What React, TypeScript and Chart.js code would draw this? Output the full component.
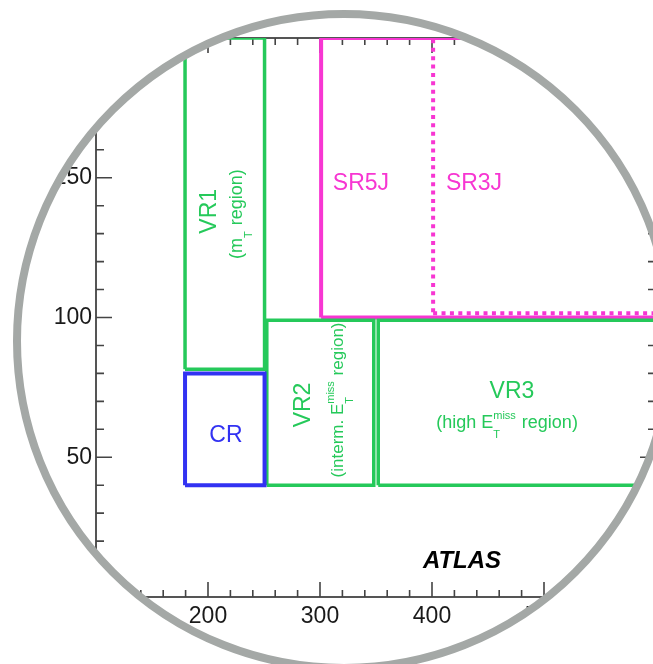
import React, { useEffect, useRef } from "react";
import { Chart, registerables } from "chart.js";
Chart.register(...registerables);

const FONT = '"Liberation Sans", Arial, Helvetica, sans-serif';

// ---- data (axis values) ----
const xTickValues = [100, 200, 300, 400, 500, 600];
const yTickValues = [0, 50, 100, 150, 200];
const xMinorStep = 20;
const yMinorStep = 10;

// region boxes
const regionNames = ["CR", "VR1", "VR2", "VR3", "SR5J", "SR3J"];
const regionXLow = [179.5, 179.5, 252.5, 352, 301, 401];
const regionXHigh = [250.5, 250.5, 348, 600, 600, 600];
const regionYLow = [40, 81.5, 40, 40, 100, 101.5];
const regionYHigh = [80, 200, 99, 99, 200, 200];

// annotation texts
type Run = { t: string; sub?: string; sup?: string };
const labelRuns: Run[][] = [
  [{ t: "CR" }],
  [{ t: "VR1" }],
  [{ t: "(m" }, { t: "", sub: "T" }, { t: " region)" }],
  [{ t: "VR2" }],
  [{ t: "(interm. E" }, { t: "", sub: "T", sup: "miss" }, { t: " region)" }],
  [{ t: "VR3" }],
  [{ t: "(high E" }, { t: "", sub: "T", sup: "miss" }, { t: " region)" }],
  [{ t: "SR5J" }],
  [{ t: "SR3J" }],
  [{ t: "ATLAS" }],
];
const labelX = [216, 201.8, 226, 285.7, 316, 471.4, 467, 336.6, 437.5, 426.8];
const labelY = [57.6, 138, 137, 68.7, 70.5, 73.3, 62.3, 148, 148, 12.9];

// ---- styles ----
const GREEN = "#25c95a";
const MAGENTA = "#f736d2";
const BLUE = "#3232f2";
const regionColor = [BLUE, GREEN, GREEN, GREEN, MAGENTA, MAGENTA];
const regionWidth = [4, 3.5, 3.5, 3.5, 4, 4];
const regionDash: number[][] = [[], [], [], [], [], [4, 4.4]];
const labelColor = [BLUE, GREEN, GREEN, GREEN, GREEN, GREEN, GREEN, MAGENTA, MAGENTA, "#000"];
const labelSize = [23, 23, 18, 23, 17, 23, 18, 23, 23, 24];
const labelRot = [0, -90, -90, -90, -90, 0, 0, 0, 0, 0];
const labelWeight = ["normal", "normal", "normal", "normal", "normal", "normal", "normal", "normal", "normal", "italic bold"];

function drawRich(
  ctx: CanvasRenderingContext2D,
  runs: Run[],
  x: number,
  y: number,
  rotDeg: number,
  size: number,
  color: string,
  weight: string
) {
  const sm = Math.round(size * 0.62);
  const base = `${weight} ${size}px ${FONT}`;
  const small = `${sm}px ${FONT}`;
  const widths: number[] = [];
  let W = 0;
  for (const r of runs) {
    ctx.font = base;
    const w = ctx.measureText(r.t).width;
    ctx.font = small;
    const ws = Math.max(r.sub ? ctx.measureText(r.sub).width : 0, r.sup ? ctx.measureText(r.sup).width : 0);
    const tot = w + ws + (ws > 0 ? 1 : 0);
    widths.push(tot);
    W += tot;
  }
  ctx.save();
  ctx.translate(x, y);
  ctx.rotate((rotDeg * Math.PI) / 180);
  ctx.fillStyle = color;
  ctx.textBaseline = "middle";
  ctx.textAlign = "left";
  let cx = -W / 2;
  runs.forEach((r, i) => {
    ctx.font = base;
    ctx.fillText(r.t, cx, 0);
    const w = ctx.measureText(r.t).width;
    if (r.sub || r.sup) {
      ctx.font = small;
      if (r.sup) ctx.fillText(r.sup, cx + w, -size * 0.38);
      if (r.sub) ctx.fillText(r.sub, cx + w, size * 0.68);
    }
    cx += widths[i];
  });
  ctx.restore();
}

const framePlugin = {
  id: "frameTicks",
  beforeDatasetsDraw(chart: any) {
    const { ctx, chartArea } = chart;
    const { left, right, top, bottom } = chartArea;
    const xs = chart.scales.x;
    const ys = chart.scales.y;
    ctx.save();
    ctx.strokeStyle = "#555";
    ctx.lineWidth = 2;
    ctx.strokeRect(left, top, right - left, bottom - top);
    ctx.lineWidth = 1.6;
    ctx.strokeStyle = "#444";
    for (let v = xs.min; v <= xs.max + 1e-6; v += xMinorStep) {
      const major = xTickValues.includes(v);
      const px = xs.getPixelForValue(v);
      const len = major ? 15 : 7;
      ctx.beginPath();
      ctx.moveTo(px, bottom);
      ctx.lineTo(px, bottom - len);
      ctx.moveTo(px, top);
      ctx.lineTo(px, top + len);
      ctx.stroke();
    }
    for (let v = ys.min; v <= ys.max + 1e-6; v += yMinorStep) {
      const major = yTickValues.includes(v);
      const py = ys.getPixelForValue(v);
      const len = major ? 16 : 8;
      ctx.beginPath();
      ctx.moveTo(left, py);
      ctx.lineTo(left + len, py);
      ctx.moveTo(right, py);
      ctx.lineTo(right - len, py);
      ctx.stroke();
    }
    ctx.restore();
  },
  afterDatasetsDraw(chart: any) {
    const { ctx } = chart;
    const xs = chart.scales.x;
    const ys = chart.scales.y;
    labelRuns.forEach((runs, i) => {
      drawRich(
        ctx,
        runs,
        xs.getPixelForValue(labelX[i]),
        ys.getPixelForValue(labelY[i]),
        labelRot[i],
        labelSize[i],
        labelColor[i],
        labelWeight[i]
      );
    });
  },
  afterDraw(chart: any) {
    const { ctx } = chart;
    const w = chart.width;
    const h = chart.height;
    const cx = 344;
    const cy = 341;
    ctx.save();
    ctx.beginPath();
    ctx.rect(0, 0, w, h);
    ctx.arc(cx, cy, 326, 0, Math.PI * 2, true);
    ctx.fillStyle = "#fff";
    ctx.fill("evenodd");
    ctx.beginPath();
    ctx.arc(cx, cy, 327, 0, Math.PI * 2);
    ctx.lineWidth = 8;
    ctx.strokeStyle = "#a4a8a6";
    ctx.stroke();
    ctx.restore();
  },
};

export default function App() {
  const ref = useRef<HTMLCanvasElement>(null);
  useEffect(() => {
    if (!ref.current) return;
    const datasets = regionNames.map((name, i) => ({
      label: name,
      data: [
        { x: regionXLow[i], y: regionYLow[i] },
        { x: regionXHigh[i], y: regionYLow[i] },
        { x: regionXHigh[i], y: regionYHigh[i] },
        { x: regionXLow[i], y: regionYHigh[i] },
        { x: regionXLow[i], y: regionYLow[i] },
      ],
      showLine: true,
      fill: false,
      borderColor: regionColor[i],
      backgroundColor: regionColor[i],
      borderWidth: regionWidth[i],
      borderDash: regionDash[i],
      borderJoinStyle: "miter" as const,
      borderCapStyle: "butt" as const,
      pointRadius: 0,
      tension: 0,
    }));
    const chart = new Chart(ref.current, {
      type: "scatter",
      data: { datasets },
      options: {
        animation: false,
        responsive: false,
        devicePixelRatio: 1,
        layout: { padding: { top: 38, right: 44, left: 0, bottom: 0 } },
        plugins: { legend: { display: false }, tooltip: { enabled: false } },
        scales: {
          x: {
            type: "linear",
            min: 100,
            max: 600,
            afterBuildTicks: (s: any) => {
              s.ticks = xTickValues.map((v) => ({ value: v }));
            },
            ticks: {
              color: "#1a1a1a",
              font: { size: 23, family: FONT },
              padding: 6,
              maxRotation: 0,
              autoSkip: false,
            },
            grid: { display: false, drawTicks: false },
            border: { display: false },
            afterFit: (s: any) => {
              s.height = 67;
            },
          },
          y: {
            type: "linear",
            min: 0,
            max: 200,
            afterBuildTicks: (s: any) => {
              s.ticks = yTickValues.map((v) => ({ value: v }));
            },
            ticks: {
              color: "#1a1a1a",
              font: { size: 23, family: FONT },
              padding: 4,
              autoSkip: false,
            },
            grid: { display: false, drawTicks: false },
            border: { display: false },
            afterFit: (s: any) => {
              s.width = 96;
            },
          },
        },
      },
      plugins: [framePlugin],
    });
    return () => chart.destroy();
  }, []);
  return (
    <div
      style={{
        position: "fixed",
        left: 0,
        top: 0,
        width: 653,
        height: 664,
        overflow: "hidden",
        background: "#fff",
      }}
    >
      <canvas ref={ref} width={700} height={664} style={{ width: 700, height: 664, display: "block" }} />
    </div>
  );
}
